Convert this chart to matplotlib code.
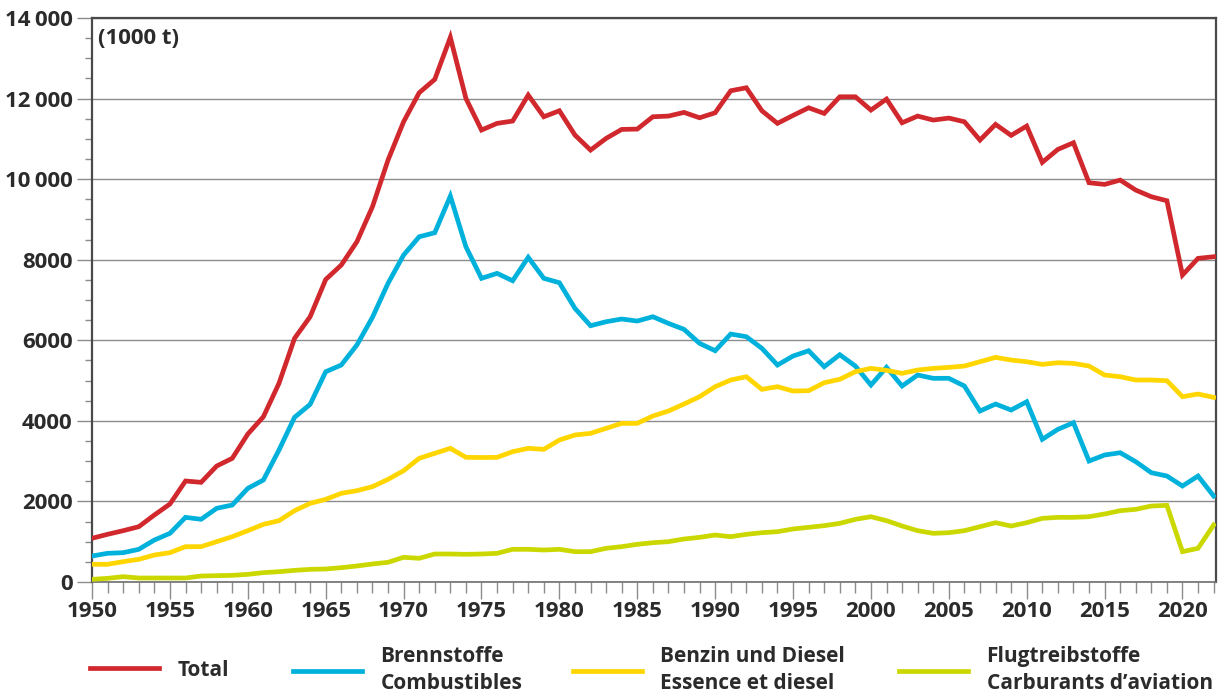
import matplotlib
matplotlib.use("Agg")
import matplotlib.pyplot as plt
from matplotlib.ticker import MultipleLocator
from matplotlib.transforms import ScaledTranslation

plt.rcParams['font.family'] = ['Open Sans', 'DejaVu Sans']
plt.rcParams['font.weight'] = 'bold'

# Jahre 1950-2022
years = list(range(1950, 2023))

# Total (1000 t)
total = [1085, 1184, 1274, 1373, 1663, 1936, 2507, 2474, 2879, 3070,
         3673, 4103, 4932, 6049, 6585, 7510, 7868, 8446, 9315, 10474,
         11425, 12145, 12477, 13520, 12005, 11219, 11385, 11442, 12087, 11549,
         11698, 11095, 10722, 11012, 11235, 11243, 11549, 11566, 11657, 11524,
         11648, 12194, 12269, 11698, 11385, 11582, 11772, 11632, 12045, 12045,
         11715, 11988, 11400, 11566, 11467, 11516, 11425, 10970, 11360, 11087,
         11318, 10417, 10739, 10904, 9911, 9870, 9977, 9729, 9564, 9464,
         7620, 8034, 8074]

# Brennstoffe / Combustibles
brennstoffe = [645, 712, 728, 811, 1042, 1208, 1605, 1556, 1829, 1911,
               2325, 2532, 3276, 4088, 4410, 5220, 5386, 5882, 6570, 7414,
               8116, 8570, 8670, 9580, 8322, 7538, 7662, 7479, 8059, 7538,
               7429, 6793, 6362, 6461, 6528, 6478, 6585, 6420, 6272, 5924,
               5741, 6155, 6089, 5800, 5386, 5609, 5741, 5345, 5642, 5361,
               4890, 5329, 4865, 5138, 5056, 5056, 4865, 4244, 4418, 4269,
               4475, 3542, 3790, 3954, 3003, 3152, 3209, 2986, 2713, 2631,
               2383, 2631, 2135]

# Benzin und Diesel / Essence et diesel
benzin = [439, 439, 505, 563, 670, 728, 877, 877, 1001, 1125,
          1274, 1431, 1522, 1770, 1952, 2052, 2201, 2267, 2366, 2548,
          2763, 3070, 3194, 3318, 3095, 3090, 3095, 3235, 3318, 3293,
          3524, 3649, 3690, 3814, 3938, 3938, 4120, 4244, 4418, 4600,
          4848, 5014, 5096, 4782, 4848, 4741, 4749, 4947, 5031, 5220,
          5303, 5255, 5179, 5262, 5303, 5328, 5361, 5468, 5576, 5510,
          5468, 5402, 5443, 5427, 5361, 5138, 5096, 5014, 5014, 4997,
          4600, 4666, 4583]

# Flugtreibstoffe / Carburants d'aviation
flug = [66, 91, 132, 99, 99, 99, 99, 149, 157, 165,
        190, 232, 256, 289, 314, 323, 356, 397, 447, 489,
        613, 588, 695, 695, 687, 695, 712, 811, 811, 794,
        811, 753, 753, 836, 877, 935, 976, 1001, 1067, 1108,
        1166, 1125, 1183, 1224, 1249, 1316, 1357, 1398, 1456, 1555,
        1621, 1522, 1390, 1274, 1208, 1224, 1274, 1373, 1472, 1390,
        1472, 1580, 1605, 1605, 1621, 1688, 1770, 1804, 1886, 1903,
        753, 836, 1415]

labels = ['Total', 'Brennstoffe\nCombustibles',
          'Benzin und Diesel\nEssence et diesel',
          'Flugtreibstoffe\nCarburants d\u2019aviation']
colors = ['#d1282e', '#00b1dc', '#ffd600', '#cbd800']

y_ticks = [0, 2000, 4000, 6000, 8000, 10000, 12000, 14000]
y_ticklabels = ['0', '2000', '4000', '6000', '8000',
                '10\u2009000', '12\u2009000', '14\u2009000']
x_ticks = list(range(1950, 2021, 5))

txt = '#2b2b2b'

fig = plt.figure(figsize=(12.29, 6.96), dpi=100)
ax = fig.add_axes([0.0749, 0.1638, 0.9145, 0.8103])

series = [total, brennstoffe, benzin, flug]
lines = []
for vals, c, lab in zip(series, colors, labels):
    ln, = ax.plot(years, vals, color=c, lw=3.4, solid_joinstyle='miter',
                  label=lab, zorder=3)
    lines.append(ln)

ax.set_xlim(1950, 2022.15)
ax.set_ylim(0, 14000)

ax.set_yticks(y_ticks)
ax.set_yticklabels(y_ticklabels)
ax.yaxis.set_minor_locator(MultipleLocator(500))
ax.set_xticks(x_ticks)
ax.xaxis.set_minor_locator(MultipleLocator(1))

ax.grid(axis='y', which='major', color='#8c8c8c', lw=1.0, zorder=1)

ax.tick_params(axis='both', which='both', direction='out', colors='#8c8c8c',
               labelcolor=txt, labelsize=16)
ax.tick_params(axis='y', which='major', length=11, width=1.0, pad=3)
ax.tick_params(axis='y', which='minor', length=5, width=1.0)
ax.tick_params(axis='x', which='major', length=12, width=1.0, pad=2)
ax.tick_params(axis='x', which='minor', length=8, width=1.0)

# im Original sitzt "1960" etwas tiefer
for tk in ax.xaxis.get_major_ticks():
    if tk.get_loc() == 1960:
        lbl = tk.label1
        lbl.set_transform(lbl.get_transform() +
                          ScaledTranslation(0, -4 / 72, fig.dpi_scale_trans))

for name in ['left', 'top', 'right']:
    ax.spines[name].set_color('#4a4a4a')
    ax.spines[name].set_linewidth(1.6)
ax.spines['bottom'].set_color('#6e6e6e')
ax.spines['bottom'].set_linewidth(1.2)

ax.text(0.005, 0.963, '(1000 t)', transform=ax.transAxes, fontsize=16,
        fontweight='bold', color=txt, ha='left', va='center')

# Legende: vier Einträge unterhalb der Achse
anchors = [0.0732, 0.2384, 0.4662, 0.7315]
for ln, lab, xa in zip(lines, labels, anchors):
    leg = fig.legend(handles=[ln], labels=[lab], loc='center left',
                     bbox_to_anchor=(xa, 0.037), frameon=False,
                     borderpad=0, borderaxespad=0, handlelength=3.3,
                     handletextpad=0.9, fontsize=15, labelspacing=0.2)
    for t in leg.get_texts():
        t.set_color(txt)
        t.set_linespacing(1.4)

fig.savefig('out.png', dpi=100)
